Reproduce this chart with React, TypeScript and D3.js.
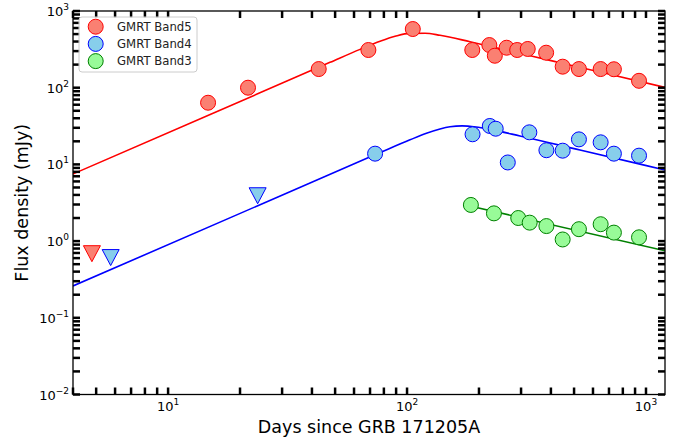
import React from 'react';
import * as d3 from 'd3';

const W = 694;
const H = 441;
const PLOT = { left: 73, right: 665, top: 11, bottom: 394.5 };

// ---------- data ----------
const band5Days = [14.7, 21.6, 42.7, 68.9, 105.7, 187.5, 221, 233, 261, 289, 320, 382, 448, 524, 646, 734, 935];
const band5Flux = [63.7, 100, 175, 310, 582, 310, 360, 261, 332, 310, 320, 286, 188, 175, 175, 174, 123];

const band4Days = [73.5, 188, 222, 235, 264, 325, 383, 448, 524, 646, 734, 935];
const band4Flux = [13.8, 24.7, 31.7, 29.2, 10.6, 26.2, 15.3, 15.1, 21.2, 19.4, 13.8, 13.0];

const band3Days = [185, 231, 292, 326, 383, 448, 524, 646, 734, 935];
const band3Flux = [2.96, 2.3, 2.0, 1.74, 1.57, 1.05, 1.43, 1.66, 1.29, 1.12];

// upper limits (downward triangles)
const band5LimitDays = [4.8];
const band5LimitFlux = [0.685];
const band4LimitDays = [5.75, 23.7];
const band4LimitFlux = [0.61, 3.9];

// model curves
const band5ModelDays = [4.0, 15, 47.6, 63.6, 77.1, 89.1, 102.9, 118.9, 137.4, 183.5, 269.8, 396.6, 642, 1201];
const band5ModelFlux = [7.5, 44.7, 214, 316, 403, 468, 511, 512, 482, 398, 301, 227, 160, 101];

const band4ModelDays = [4.0, 23.6, 77.1, 102.9, 118.9, 137.4, 151.3, 169.9, 194.4, 222.5, 297.0, 529.4, 1201];
const band4ModelFlux = [0.26, 2.87, 14.25, 20.9, 25.1, 29.0, 30.96, 31.8, 30.7, 28.6, 23.5, 15.4, 8.45];

const band3ModelDays = [185, 1201];
const band3ModelFlux = [2.85, 0.749];

const legendLabels = ['GMRT Band5', 'GMRT Band4', 'GMRT Band3'];
const xLabel = 'Days since GRB 171205A';
const yLabel = 'Flux density (mJy)';

const xDomain = [4.0, 1201];
const yDomain = [0.01, 1000];

const COLORS = {
  b5: { fill: '#fa8072', edge: '#ff0000', line: '#ff0000' },
  b4: { fill: '#87ceeb', edge: '#0000ff', line: '#0000ff' },
  b3: { fill: '#98fb98', edge: '#008000', line: '#008000' },
};

const FONT = '"DejaVu Sans", sans-serif';

function zip(a: number[], b: number[]): [number, number][] {
  return a.map((v, i) => [v, b[i]]);
}

export default function App() {
  const x = d3.scaleLog().domain(xDomain).range([PLOT.left, PLOT.right]);
  const y = d3.scaleLog().domain(yDomain).range([PLOT.bottom, PLOT.top]);

  const line = d3
    .line<[number, number]>()
    .x((d) => x(d[0]))
    .y((d) => y(d[1]))
    .curve(d3.curveMonotoneX);

  const isMajor = (v: number) => Math.abs(Math.log10(v) - Math.round(Math.log10(v))) < 1e-9;
  const xTicks = x.ticks().filter((v) => v >= xDomain[0] && v <= xDomain[1]);
  const yTicks = y.ticks().filter((v) => v >= yDomain[0] && v <= yDomain[1]);

  const TL = 7;
  const TW = 2.5;

  const circles = (days: number[], flux: number[], c: { fill: string; edge: string }, key: string) =>
    zip(days, flux).map(([d, f], i) => (
      <circle key={key + i} cx={x(d)} cy={y(f)} r={7.5} fill={c.fill} stroke={c.edge} strokeWidth={1} />
    ));

  const tri = (cx: number, cy: number) => {
    const hw = 8.5;
    const hh = 8;
    return `M${cx - hw},${cy - hh}L${cx + hw},${cy - hh}L${cx},${cy + hh}Z`;
  };
  const triangles = (days: number[], flux: number[], c: { fill: string; edge: string }, key: string) =>
    zip(days, flux).map(([d, f], i) => (
      <path key={key + i} d={tri(x(d), y(f))} fill={c.fill} stroke={c.edge} strokeWidth={1} />
    ));

  const expLabel = (v: number) => {
    const e = Math.round(Math.log10(v));
    return e < 0 ? '\u2212' + Math.abs(e) : String(e);
  };

  const legendY = [26.7, 43.9, 61.1];
  const legendColors = [COLORS.b5, COLORS.b4, COLORS.b3];

  return (
    <div style={{ position: 'fixed', left: 0, top: 0 }}>
      <svg width={W} height={H} viewBox={`0 0 ${W} ${H}`} style={{ display: 'block', background: '#fff' }} fontFamily={FONT}>
        <rect x={0} y={0} width={W} height={H} fill="#fff" />
        <defs>
          <clipPath id="plotclip">
            <rect x={PLOT.left} y={PLOT.top} width={PLOT.right - PLOT.left} height={PLOT.bottom - PLOT.top} />
          </clipPath>
        </defs>

        {/* model lines */}
        <g clipPath="url(#plotclip)" fill="none" strokeWidth={1.6}>
          <path d={line(zip(band5ModelDays, band5ModelFlux)) || ''} stroke={COLORS.b5.line} />
          <path d={line(zip(band4ModelDays, band4ModelFlux)) || ''} stroke={COLORS.b4.line} />
          <path d={line(zip(band3ModelDays, band3ModelFlux)) || ''} stroke={COLORS.b3.line} />
        </g>

        {/* markers */}
        <g>
          {circles(band5Days, band5Flux, COLORS.b5, 'c5')}
          {circles(band4Days, band4Flux, COLORS.b4, 'c4')}
          {circles(band3Days, band3Flux, COLORS.b3, 'c3')}
          {triangles(band5LimitDays, band5LimitFlux, COLORS.b5, 't5')}
          {triangles(band4LimitDays, band4LimitFlux, COLORS.b4, 't4')}
        </g>

        {/* ticks (inward, all four sides) */}
        <g stroke="#000" strokeWidth={TW}>
          {xTicks.map((v, i) => (
            <g key={'xt' + i}>
              <line x1={x(v)} x2={x(v)} y1={PLOT.bottom} y2={PLOT.bottom - TL} />
              <line x1={x(v)} x2={x(v)} y1={PLOT.top} y2={PLOT.top + TL} />
            </g>
          ))}
          {yTicks.map((v, i) => (
            <g key={'yt' + i}>
              <line x1={PLOT.left} x2={PLOT.left + TL} y1={y(v)} y2={y(v)} />
              <line x1={PLOT.right} x2={PLOT.right - TL} y1={y(v)} y2={y(v)} />
            </g>
          ))}
        </g>

        {/* frame */}
        <rect
          x={PLOT.left}
          y={PLOT.top}
          width={PLOT.right - PLOT.left}
          height={PLOT.bottom - PLOT.top}
          fill="none"
          stroke="#000"
          strokeWidth={1.3}
        />

        {/* tick labels */}
        <g fill="#000" fontSize={13}>
          {xTicks.filter(isMajor).map((v, i) => (
            <text key={'xl' + i} x={x(v)} y={PLOT.bottom + 16.5} textAnchor="middle">
              10
              <tspan fontSize={9} dy={-6}>
                {expLabel(v)}
              </tspan>
            </text>
          ))}
          {yTicks.filter(isMajor).map((v, i) => (
            <text key={'yl' + i} x={PLOT.left - 4} y={y(v) + 5} textAnchor="end">
              10
              <tspan fontSize={9} dy={-6}>
                {expLabel(v)}
              </tspan>
            </text>
          ))}
        </g>

        {/* axis labels */}
        <text x={(PLOT.left + PLOT.right) / 2} y={433} textAnchor="middle" fontSize={17.5} fill="#000">
          {xLabel}
        </text>
        <text
          transform={`translate(28, ${(PLOT.top + PLOT.bottom) / 2}) rotate(-90)`}
          textAnchor="middle"
          fontSize={17.5}
          fill="#000"
        >
          {yLabel}
        </text>

        {/* legend */}
        <g>
          <rect x={79} y={17} width={118} height={55} rx={3} fill="#fff" fillOpacity={0.8} stroke="#cccccc" strokeWidth={1} />
          {legendLabels.map((lab, i) => (
            <g key={'lg' + i}>
              <circle cx={95.7} cy={legendY[i]} r={7.5} fill={legendColors[i].fill} stroke={legendColors[i].edge} strokeWidth={1} />
              <text x={117} y={legendY[i] + 4} fontSize={11.7} fill="#222">
                {lab}
              </text>
            </g>
          ))}
        </g>
      </svg>
    </div>
  );
}
